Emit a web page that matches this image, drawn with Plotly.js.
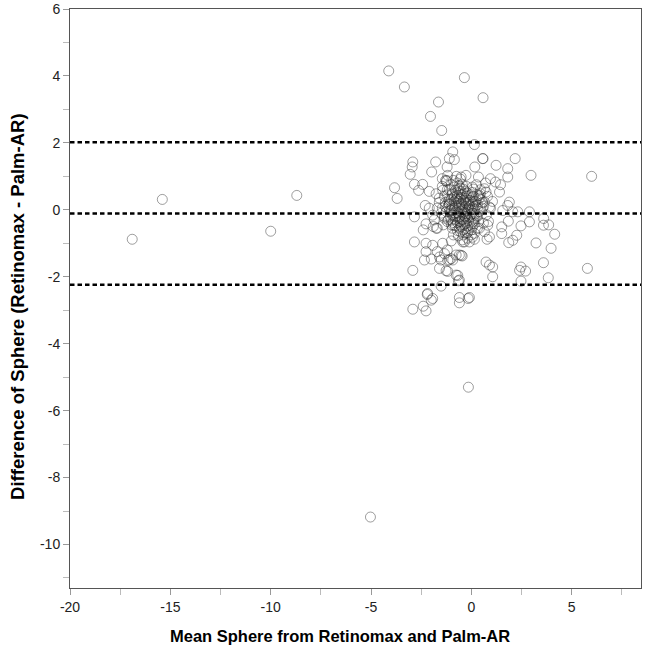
<!DOCTYPE html>
<html>
<head>
<meta charset="utf-8">
<script src="https://cdn.plot.ly/plotly-3.0.1.min.js"></script>
<style>
  html, body { margin: 0; padding: 0; background: #fff; }
  #chart { width: 647px; height: 653px; }
</style>
</head>
<body>
<div id="chart"></div>
<script>
// Bland-Altman: mean sphere vs difference (Retinomax - Palm-AR)

// scattered points away from the central cluster
const outerMean = [
  -16.9, -15.4, -10.0, -8.7, -5.03, -0.15,
  -4.12, -3.34, -0.35, -1.64, 0.58, -2.04, -1.48,
  0.15, -0.93, -1.10, -0.85, -2.92, -2.95, -3.05, -1.78, -1.98, 0.58, 2.18, 0.17,
  -1.21, -1.18, -1.29, -1.45, -0.27, -0.51, -3.83, -3.70, -2.84, -2.43, -2.63,
  -2.10, -1.76, -1.43, -1.23, 5.99,
  0.56, 1.23, 1.81, 2.97, 0.95, 1.20, 1.45, 1.81, 1.40, 0.65, 0.73, 0.40, 1.89,
  1.81, 1.56, 2.06, 2.31, 2.89, 0.90, 0.65, 3.60, 3.59, 3.85, 4.15, 3.97, 3.59,
  3.83, 5.78, 3.22, 2.89, 2.47, 2.26, 2.06, 1.86, 1.84, 1.51, 1.51, 0.81, 0.90,
  0.78, 0.15, -0.10, -0.35, 0.73, 1.06, 0.90, 1.06, 2.47, 2.40, 2.70, 2.47,
  -2.84, -2.92, -2.26, -1.93, -2.26, -2.34, -2.00, -1.59, -1.51, -1.26, -1.10,
  -0.93, -1.43, -1.00, -0.46, -0.76, -0.65, -1.51, -2.92, -2.26, -2.20, -2.00,
  -0.60, -0.16, -2.84, -2.30, -2.26, -1.90, -1.70, -1.93, -2.40, -1.70, -1.20,
  -0.60, -0.90, -0.76, -2.40, -1.34, -1.18, -1.01, -1.59, -1.18, -0.68, -0.60,
  -0.51, -0.43, -2.18, -1.93, -0.60, -0.10
];
const outerDiff = [
  -0.88, 0.31, -0.64, 0.43, -9.18, -5.30,
  4.15, 3.67, 3.95, 3.22, 3.35, 2.79, 2.37,
  1.95, 1.73, 1.53, 1.50, 1.43, 1.28, 1.06, 1.43, 1.13, 1.53, 1.53, 1.28,
  1.28, 1.03, 0.88, 0.93, 1.03, 0.98, 0.66, 0.34, 0.76, 0.76, 0.58,
  0.55, 0.48, 0.58, 0.88, 1.00,
  1.53, 1.33, 1.23, 1.03, 0.93, 0.83, 0.75, 0.98, 0.53, 0.63, 0.53, 0.43, 0.23,
  0.13, -0.02, -0.06, -0.06, -0.06, 0.08, 0.23, -0.26, -0.46, -0.45, -0.73, -1.15, -1.58,
  -2.03, -1.75, -0.99, -0.36, -0.48, -0.76, -0.91, -0.98, -0.34, -0.51, -0.71, -0.46, -0.81,
  -0.88, -0.88, -0.96, -0.96, -1.56, -1.71, -1.65, -2.00, -1.71, -1.81, -1.83, -2.13,
  -0.96, -1.81, -1.00, -1.06, -1.25, -1.50, -1.47, -1.75, -1.50, -1.82, -1.50,
  -1.50, -1.00, -0.93, -1.38, -1.95, -2.12, -2.28, -2.97, -3.02, -2.53, -2.70,
  -2.78, -2.65, -0.21, 0.13, -0.42, -0.50, -0.55, -0.16, -0.60, -1.25, -1.20,
  -1.35, -0.75, -1.35, -2.88, -1.31, -1.51, -1.46, -1.41, -1.84, -1.96, -2.10,
  -1.36, -0.96, -2.50, -2.65, -2.62, -2.62
];

// dense cluster around a mean sphere of about -0.4 D
const clusterMean = [
  -0.60, -0.40, -0.25, -0.80, -0.15, -0.55, -0.95, 0.05, -0.35, -0.70,
  -0.05, -0.50, -1.10, 0.25, -0.20, -0.85, 0.15, -0.75, -0.30, 0.00,
  -1.00, 0.30, -0.45, -1.30, 0.10, -0.60, -0.10, -0.85, -0.30, -0.50,
  0.05, -1.20, 0.40, -0.40, -0.70, -0.20, -0.95, 0.20, -0.45, -0.25,
  -1.35, -0.60, 0.10, -1.05, 0.50, -0.35, -0.80, -0.05, -0.55, 0.35,
  -0.90, -0.25, -1.45, 0.05, -0.60, -0.15, -1.10, 0.55, -0.40, -0.75,
  0.10, -0.95, 0.30, -0.55, -1.20, 0.00, 0.45, -0.30, -0.80, -0.50,
  -0.15, 0.05, -0.30, -0.20, -0.45, 0.15, -0.65, 0.05, -0.30, -0.65,
  -1.00, -1.20, -0.90, -0.70, -1.35, -0.55, -1.10, -0.85, -1.45, -0.62, -1.25, -0.95, -1.60, -0.75,
  -1.30, -1.50, -1.15, -1.70, -1.40, -1.10, -1.25, -1.85, -1.60, -1.00, -1.35, -2.10, -1.75,
  0.40, 0.60, 0.30, 0.75, 0.45, 0.80, 0.25, 0.60, 0.95, 0.40, 0.70, 0.55, 0.85, 0.35, 0.65, 1.05,
  -0.50, -0.30, -0.70, -0.10, -0.85, 0.05, -0.55, -1.00, -0.20, -0.40,
  0.15, -0.65, 0.05, -0.80, -0.35, -0.15, -1.10, 0.25, -0.55, -0.25,
  -0.60, -0.45, -0.30, -0.85, 0.00, -0.70, -0.20, -0.55, 0.10, -0.95,
  -0.40, -0.10, -0.75, 0.20, -0.50, -0.30, -1.05, 0.15, -0.65, 0.00,
  -0.85, -0.35, -0.15, -0.60, 0.05, -1.00, 0.30, -0.50, -0.25, -0.80,
  0.05, -0.90, 0.20, -0.45, -0.20, -1.15, 0.35, -0.40, -0.70, 0.10
];
const clusterDiff = [
  0.05, -0.12, 0.18, -0.22, -0.31, 0.32, 0.12, 0.07, -0.45, -0.38,
  0.28, 0.44, -0.05, -0.18, -0.02, 0.38, -0.42, 0.21, 0.56, -0.60,
  -0.31, 0.15, -0.28, 0.22, 0.40, -0.55, 0.10, 0.00, -0.20, 0.15,
  -0.10, 0.44, -0.05, 0.28, -0.08, -0.48, -0.15, 0.25, 0.02, 0.40,
  -0.20, 0.48, -0.28, 0.27, 0.30, -0.35, 0.58, -0.15, -0.65, -0.35,
  -0.45, 0.70, 0.05, 0.52, -0.25, 0.22, 0.60, 0.05, -0.75, 0.32,
  0.62, -0.55, -0.55, 0.65, -0.35, -0.75, 0.48, 0.00, 0.12, -0.50,
  -0.62, -0.82, -0.70, -0.85, -0.90, -0.70, -0.78, -0.40, 0.10, -0.12,
  0.75, 0.60, 0.88, 0.80, 0.40, 0.92, 0.30, 0.68, 0.70, 0.72, 0.85, 0.50, 0.35, 1.00,
  0.10, -0.10, -0.30, 0.05, -0.45, 0.15, -0.05, -0.30, 0.22, -0.45, -0.25, 0.05, -0.55,
  0.35, 0.10, -0.20, -0.15, 0.60, 0.40, 0.75, -0.40, 0.05, -0.55, 0.80, 0.22, -0.35, 0.98, -0.65, 0.25,
  -0.05, 0.35, 0.42, -0.22, 0.25, 0.18, -0.35, 0.00, 0.50, -0.60,
  0.00, 0.25, 0.38, -0.30, -0.18, 0.05, 0.18, 0.30, 0.55, -0.40,
  0.10, -0.30, 0.22, -0.10, 0.00, 0.35, -0.25, -0.45, -0.35, 0.45,
  0.48, 0.15, -0.18, 0.12, 0.20, -0.55, -0.22, -0.25, 0.60, 0.45,
  0.05, -0.08, 0.30, -0.20, -0.50, 0.32, 0.05, 0.38, -0.12, -0.48,
  0.68, -0.38, -0.12, 0.75, -0.68, 0.10, 0.42, 0.62, -0.62, 0.25
];

// mean difference and 95% limits of agreement
const limitValues = [2.02, -0.11, -2.24];

const xRange = [-20, 8.45];
const yRange = [-11.3, 6.0];
const xTicks = [-20, -15, -10, -5, 0, 5];
const xTickText = ['-20', '-15', '-10', '-5', '0', '5'];
const yTicks = [-10, -8, -6, -4, -2, 0, 2, 4, 6];
const yTickText = ['-10', '-8', '-6', '-4', '-2', '0', '2', '4', '6'];

const markerStyle = {
  symbol: 'circle-open',
  size: 10,
  color: 'rgba(40,40,40,0.6)',
  line: { width: 0.75 }
};

const traces = [
  {
    x: outerMean.concat(clusterMean),
    y: outerDiff.concat(clusterDiff),
    mode: 'markers',
    type: 'scatter',
    marker: markerStyle,
    hoverinfo: 'x+y',
    showlegend: false
  }
];

const shapes = limitValues.map(v => ({
  type: 'line',
  xref: 'paper', x0: 0, x1: 1,
  yref: 'y', y0: v, y1: v,
  line: { color: '#000', width: 2.6, dash: '4.5px,3px' }
}));

const axisFont = { family: 'Liberation Sans, Arial, sans-serif', size: 14, color: '#222' };
const titleFont = { family: 'Liberation Sans, Arial, sans-serif', size: 16.5, color: '#000', weight: 'bold' };

const layout = {
  width: 647,
  height: 653,
  margin: { l: 70, r: 6, t: 9, b: 65 },
  paper_bgcolor: '#fff',
  plot_bgcolor: '#fff',
  shapes: shapes,
  annotations: [
    {
      text: 'Mean Sphere from Retinomax and Palm-AR',
      xref: 'paper', yref: 'paper', x: 0.473, y: -0.083,
      xanchor: 'center', yanchor: 'middle', showarrow: false,
      font: titleFont
    },
    {
      text: 'Difference of Sphere (Retinomax - Palm-AR)',
      xref: 'paper', yref: 'paper', x: -0.093, y: 0.487,
      xanchor: 'center', yanchor: 'middle', showarrow: false,
      textangle: -90,
      font: Object.assign({}, titleFont, { size: 18.5 })
    }
  ],
  xaxis: {
    range: xRange,
    tickvals: xTicks,
    ticktext: xTickText,
    ticks: 'outside',
    ticklen: 6,
    tickcolor: '#999',
    tickfont: axisFont,
    showgrid: false,
    zeroline: false,
    showline: true,
    linecolor: '#555',
    linewidth: 1,
    mirror: true,
    minor: { dtick: 2.5, tick0: 0, ticks: 'outside', ticklen: 6, tickcolor: '#bbb', showgrid: false }
  },
  yaxis: {
    range: yRange,
    tickvals: yTicks,
    ticktext: yTickText,
    ticks: 'outside',
    ticklen: 6,
    tickcolor: '#999',
    tickfont: axisFont,
    showgrid: false,
    zeroline: false,
    showline: true,
    linecolor: '#555',
    linewidth: 1,
    mirror: true,
    minor: { dtick: 1, tick0: 0, ticks: 'outside', ticklen: 6, tickcolor: '#bbb', showgrid: false }
  }
};

Plotly.newPlot('chart', traces, layout, { displayModeBar: false, staticPlot: true });
</script>
</body>
</html>
